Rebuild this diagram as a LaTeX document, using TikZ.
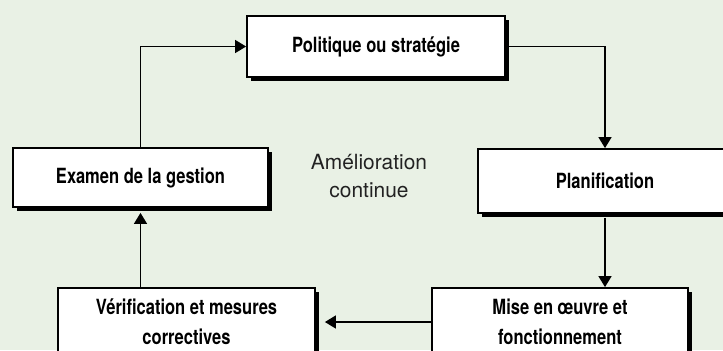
\documentclass[tikz,border=0pt]{standalone}
\usepackage{fontspec}
\setmainfont{TeX Gyre Heros}
\newfontfamily\condfont[FakeStretch=0.79]{TeX Gyre Heros}
\usetikzlibrary{arrows.meta,shadows}
\definecolor{bgcol}{HTML}{E9F1E5}
\definecolor{txtgray}{HTML}{222222}
\tikzset{
  boxnode/.style={draw=black, line width=1.8bp, fill=white, align=center,
    font=\condfont\bfseries\fontsize{21}{30}\selectfont,
    drop shadow={shadow xshift=4bp, shadow yshift=-4bp, fill=black, opacity=1},
    inner sep=0pt},
  conn/.style={line width=1.5bp, -{Triangle[length=11bp,width=13bp]}},
}
\begin{document}
\begin{tikzpicture}[x=1bp,y=-1bp]
\fill[bgcol] (0,0) rectangle (723,350);
\useasboundingbox (0,0) rectangle (723,350);
\clip (0,0) rectangle (723,350);
\node[boxnode, minimum width=258bp, minimum height=61bp] (pol) at (376,46.5) {Politique ou stratégie};
\node[boxnode, minimum width=255bp, minimum height=59bp] (exa) at (140.5,177.5) {Examen de la gestion};
\node[boxnode, minimum width=254bp, minimum height=64bp] (pla) at (605,181) {Planification};
\node[boxnode, minimum width=257bp, minimum height=68bp] (ver) at (186.5,322) {Vérification et mesures\\correctives};
\node[boxnode, minimum width=256bp, minimum height=68bp] (mis) at (560,322) {Mise en œuvre et\\fonctionnement};
\node[text=txtgray, align=center, font=\fontsize{21}{28}\selectfont] (ame) at (369,176) {Amélioration\\continue};
\draw[conn] (exa.north) |- (pol.west);
\draw[conn] (pol.east) -| (pla.north);
\draw[conn] ([yshift=-4bp]pla.south) -- (pla.south |- mis.north);
\draw[conn] (mis.west) -- ([xshift=9bp]ver.east);
\draw[conn] (ver.north -| exa.south) -- ([yshift=-5bp]exa.south);
\end{tikzpicture}
\end{document}
